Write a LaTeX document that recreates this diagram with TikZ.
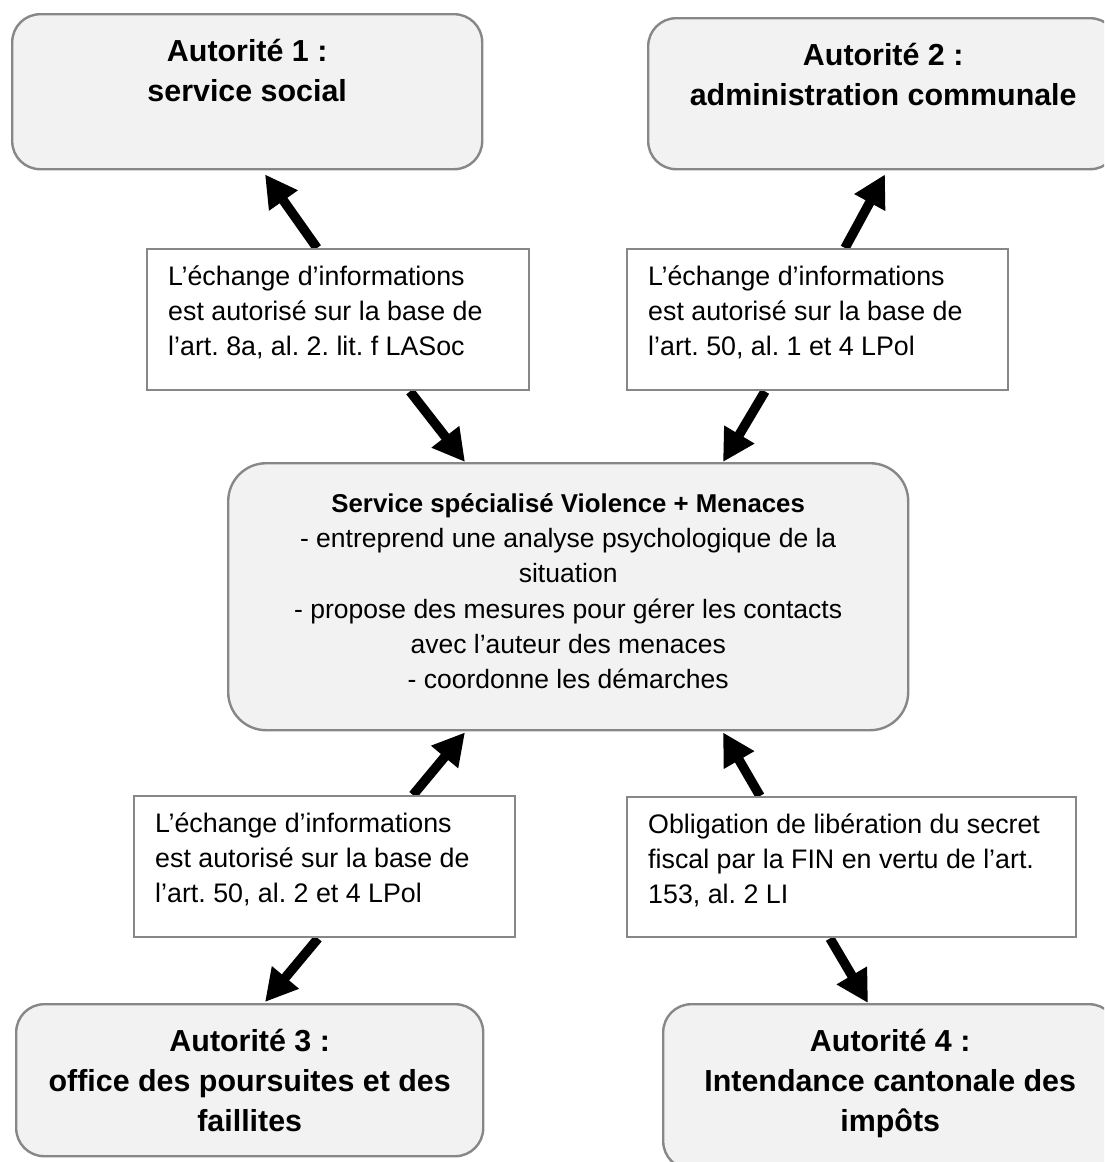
\documentclass[tikz,border=0pt]{standalone}
\usepackage{fontspec}
\setmainfont{Liberation Sans}
\usetikzlibrary{arrows.meta,calc}
\pgfdeclarelayer{bg}
\pgfsetlayers{bg,main}
\definecolor{boxfill}{HTML}{F2F2F2}
\definecolor{boxline}{HTML}{878787}
\frenchspacing

% box bodies: #1 height, #2 width, #3 text (first baseline fixed by a strut)
\newcommand{\AuthBody}[3]{\parbox[t][#1pt][t]{#2pt}{\centering\bfseries\fontsize{30.4}{40}\selectfont\rule{0pt}{47pt}#3}}
\newcommand{\LawBody}[3]{\parbox[t][#1pt][t]{#2pt}{\raggedright\fontsize{26.8}{35}\selectfont\rule{0pt}{36.7pt}#3}}
\newcommand{\CoreBody}[3]{\parbox[t][#1pt][t]{#2pt}{\centering\fontsize{26.5}{35.3}\selectfont\rule{0pt}{49pt}#3}}

\begin{document}
\begin{tikzpicture}[x=1pt,y=-1pt,
  authority/.style={draw=boxline, line width=2.4pt, fill=boxfill, rounded corners=28pt,
    inner sep=0pt, anchor=north west},
  core/.style={draw=boxline, line width=2.4pt, fill=boxfill, rounded corners=38pt,
    inner sep=0pt, anchor=north west},
  lawbox/.style={draw=boxline, line width=2.4pt, fill=white, inner xsep=21pt,
    inner ysep=0pt, anchor=north west},
  arr/.style={line width=9.5pt, -{Triangle[length=32pt,width=33pt]}}]

\useasboundingbox (0,0) rectangle (1104,1162);
\clip (0,0) rectangle (1104,1162);

% authorities
\node[authority] (a1) at (11,13) {\AuthBody{155}{470}{Autorité 1 :\\service social}};
\node[authority] (a2) at (647,17) {\AuthBody{151}{470}{Autorité 2 :\\administration communale}};
\node[authority] (a3) at (15,1003) {\AuthBody{152}{467}{Autorité 3 :\\office des poursuites et des\\faillites}};
\node[authority] (a4) at (662,1003) {\AuthBody{165}{454}{Autorité 4 :\\Intendance cantonale des\\impôts}};

% central service
\node[core] (svc) at (227,462) {\CoreBody{267}{680}{{\bfseries\fontsize{25.8}{35.3}\selectfont Service spécialisé Violence + Menaces}\\
- entreprend une analyse psychologique de la\\situation\\
- propose des mesures pour gérer les contacts\\avec l’auteur des menaces\\
- coordonne les démarches}};

% legal bases
\node[lawbox] (l1) at (146,248) {\LawBody{141}{340}{L’échange d’informations\\est autorisé sur la base de\\l’art. 8a, al. 2. lit. f LASoc}};
\node[lawbox] (l2) at (626,248) {\LawBody{141}{339}{L’échange d’informations\\est autorisé sur la base de\\l’art. 50, al. 1 et 4 LPol}};
\node[lawbox] (l3) at (133,795) {\LawBody{141}{339}{L’échange d’informations\\est autorisé sur la base de\\l’art. 50, al. 2 et 4 LPol}};
\node[lawbox] (l4) at (626,796) {\LawBody{140}{407}{Obligation de libération du secret\\fiscal par la FIN en vertu de l’art.\\153, al. 2 LI}};

% exchanges
\begin{pgfonlayer}{bg}
\draw[arr] ($(l1.north west)+(171,0)$) -- ($(a1.south west)+(254,4)$);
\draw[arr] ($(l1.south west)+(264,0)$) -- ($(svc.north west)+(238,0)$);
\draw[arr] ($(l2.north west)+(219,0)$) -- ($(a2.south west)+(238,4)$);
\draw[arr] ($(l2.south west)+(139,0)$) -- ($(svc.north west)+(496,0)$);
\draw[arr] ($(l3.north west)+(280,0)$) -- ($(svc.south west)+(238,1)$);
\draw[arr] ($(l3.south west)+(185,0)$) -- ($(a3.north west)+(250,-1)$);
\draw[arr] ($(l4.north west)+(134,0)$) -- ($(svc.south west)+(496,1)$);
\draw[arr] ($(l4.south west)+(204,0)$) -- ($(a4.north west)+(206,0)$);
\end{pgfonlayer}
\end{tikzpicture}
\end{document}
